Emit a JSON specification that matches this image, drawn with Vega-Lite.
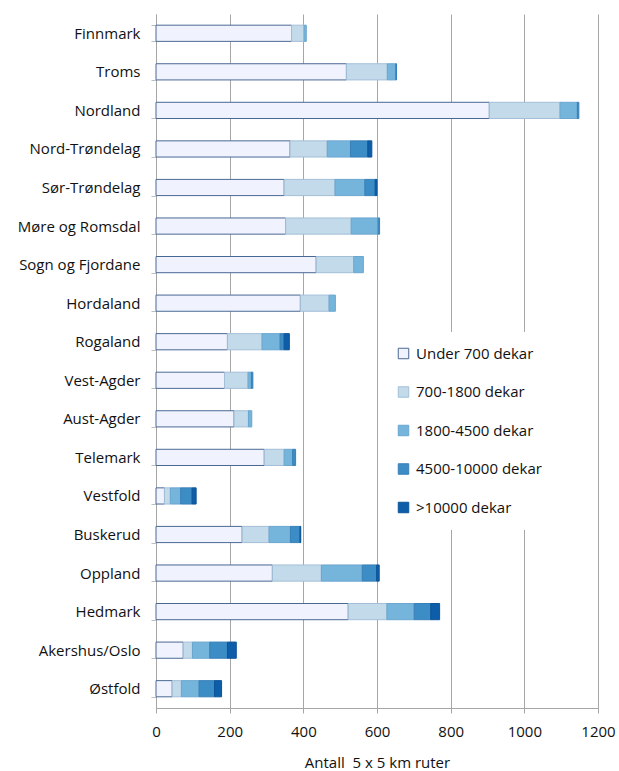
{
  "$schema": "https://vega.github.io/schema/vega-lite/v6.json",
  "autosize": {"type": "none"},
  "width": 442,
  "height": 694,
  "padding": {"left": 156, "top": 14, "right": 21, "bottom": 63},
  "background": "white",
  "config": {
    "font": "Open Sans",
    "view": {"stroke": null}
  },
  "data": {
    "values": [
      {"fylke": "Finnmark", "klasse": "Under 700 dekar", "ord": 1, "antall": 368},
      {"fylke": "Finnmark", "klasse": "700-1800 dekar", "ord": 2, "antall": 34},
      {"fylke": "Finnmark", "klasse": "1800-4500 dekar", "ord": 3, "antall": 6},
      {"fylke": "Troms", "klasse": "Under 700 dekar", "ord": 1, "antall": 517},
      {"fylke": "Troms", "klasse": "700-1800 dekar", "ord": 2, "antall": 111},
      {"fylke": "Troms", "klasse": "1800-4500 dekar", "ord": 3, "antall": 23},
      {"fylke": "Troms", "klasse": "\u00a04500-10000 dekar", "ord": 4, "antall": 2},
      {"fylke": "Nordland", "klasse": "Under 700 dekar", "ord": 1, "antall": 905},
      {"fylke": "Nordland", "klasse": "700-1800 dekar", "ord": 2, "antall": 192},
      {"fylke": "Nordland", "klasse": "1800-4500 dekar", "ord": 3, "antall": 47},
      {"fylke": "Nordland", "klasse": "\u00a04500-10000 dekar", "ord": 4, "antall": 4},
      {"fylke": "Nord-Trøndelag", "klasse": "Under 700 dekar", "ord": 1, "antall": 364},
      {"fylke": "Nord-Trøndelag", "klasse": "700-1800 dekar", "ord": 2, "antall": 101},
      {"fylke": "Nord-Trøndelag", "klasse": "1800-4500 dekar", "ord": 3, "antall": 63},
      {"fylke": "Nord-Trøndelag", "klasse": "\u00a04500-10000 dekar", "ord": 4, "antall": 47},
      {"fylke": "Nord-Trøndelag", "klasse": ">10000 dekar", "ord": 5, "antall": 11},
      {"fylke": "Sør-Trøndelag", "klasse": "Under 700 dekar", "ord": 1, "antall": 348},
      {"fylke": "Sør-Trøndelag", "klasse": "700-1800 dekar", "ord": 2, "antall": 138},
      {"fylke": "Sør-Trøndelag", "klasse": "1800-4500 dekar", "ord": 3, "antall": 81},
      {"fylke": "Sør-Trøndelag", "klasse": "\u00a04500-10000 dekar", "ord": 4, "antall": 28},
      {"fylke": "Sør-Trøndelag", "klasse": ">10000 dekar", "ord": 5, "antall": 5},
      {"fylke": "Møre og Romsdal", "klasse": "Under 700 dekar", "ord": 1, "antall": 352},
      {"fylke": "Møre og Romsdal", "klasse": "700-1800 dekar", "ord": 2, "antall": 178},
      {"fylke": "Møre og Romsdal", "klasse": "1800-4500 dekar", "ord": 3, "antall": 73},
      {"fylke": "Møre og Romsdal", "klasse": "\u00a04500-10000 dekar", "ord": 4, "antall": 4},
      {"fylke": "Sogn og Fjordane", "klasse": "Under 700 dekar", "ord": 1, "antall": 435},
      {"fylke": "Sogn og Fjordane", "klasse": "700-1800 dekar", "ord": 2, "antall": 102},
      {"fylke": "Sogn og Fjordane", "klasse": "1800-4500 dekar", "ord": 3, "antall": 26},
      {"fylke": "Hordaland", "klasse": "Under 700 dekar", "ord": 1, "antall": 392},
      {"fylke": "Hordaland", "klasse": "700-1800 dekar", "ord": 2, "antall": 78},
      {"fylke": "Hordaland", "klasse": "1800-4500 dekar", "ord": 3, "antall": 17},
      {"fylke": "Rogaland", "klasse": "Under 700 dekar", "ord": 1, "antall": 194},
      {"fylke": "Rogaland", "klasse": "700-1800 dekar", "ord": 2, "antall": 94},
      {"fylke": "Rogaland", "klasse": "1800-4500 dekar", "ord": 3, "antall": 49},
      {"fylke": "Rogaland", "klasse": "\u00a04500-10000 dekar", "ord": 4, "antall": 11},
      {"fylke": "Rogaland", "klasse": ">10000 dekar", "ord": 5, "antall": 14},
      {"fylke": "Vest-Agder", "klasse": "Under 700 dekar", "ord": 1, "antall": 186},
      {"fylke": "Vest-Agder", "klasse": "700-1800 dekar", "ord": 2, "antall": 64},
      {"fylke": "Vest-Agder", "klasse": "1800-4500 dekar", "ord": 3, "antall": 9},
      {"fylke": "Vest-Agder", "klasse": "\u00a04500-10000 dekar", "ord": 4, "antall": 4},
      {"fylke": "Aust-Agder", "klasse": "Under 700 dekar", "ord": 1, "antall": 212},
      {"fylke": "Aust-Agder", "klasse": "700-1800 dekar", "ord": 2, "antall": 39},
      {"fylke": "Aust-Agder", "klasse": "1800-4500 dekar", "ord": 3, "antall": 9},
      {"fylke": "Telemark", "klasse": "Under 700 dekar", "ord": 1, "antall": 294},
      {"fylke": "Telemark", "klasse": "700-1800 dekar", "ord": 2, "antall": 54},
      {"fylke": "Telemark", "klasse": "1800-4500 dekar", "ord": 3, "antall": 23},
      {"fylke": "Telemark", "klasse": "\u00a04500-10000 dekar", "ord": 4, "antall": 8},
      {"fylke": "Vestfold", "klasse": "Under 700 dekar", "ord": 1, "antall": 23},
      {"fylke": "Vestfold", "klasse": "700-1800 dekar", "ord": 2, "antall": 16},
      {"fylke": "Vestfold", "klasse": "1800-4500 dekar", "ord": 3, "antall": 28},
      {"fylke": "Vestfold", "klasse": "\u00a04500-10000 dekar", "ord": 4, "antall": 31},
      {"fylke": "Vestfold", "klasse": ">10000 dekar", "ord": 5, "antall": 11},
      {"fylke": "Buskerud", "klasse": "Under 700 dekar", "ord": 1, "antall": 234},
      {"fylke": "Buskerud", "klasse": "700-1800 dekar", "ord": 2, "antall": 73},
      {"fylke": "Buskerud", "klasse": "1800-4500 dekar", "ord": 3, "antall": 58},
      {"fylke": "Buskerud", "klasse": "\u00a04500-10000 dekar", "ord": 4, "antall": 26},
      {"fylke": "Buskerud", "klasse": ">10000 dekar", "ord": 5, "antall": 2},
      {"fylke": "Oppland", "klasse": "Under 700 dekar", "ord": 1, "antall": 316},
      {"fylke": "Oppland", "klasse": "700-1800 dekar", "ord": 2, "antall": 133},
      {"fylke": "Oppland", "klasse": "1800-4500 dekar", "ord": 3, "antall": 111},
      {"fylke": "Oppland", "klasse": "\u00a04500-10000 dekar", "ord": 4, "antall": 39},
      {"fylke": "Oppland", "klasse": ">10000 dekar", "ord": 5, "antall": 7},
      {"fylke": "Hedmark", "klasse": "Under 700 dekar", "ord": 1, "antall": 522},
      {"fylke": "Hedmark", "klasse": "700-1800 dekar", "ord": 2, "antall": 105},
      {"fylke": "Hedmark", "klasse": "1800-4500 dekar", "ord": 3, "antall": 74},
      {"fylke": "Hedmark", "klasse": "\u00a04500-10000 dekar", "ord": 4, "antall": 45},
      {"fylke": "Hedmark", "klasse": ">10000 dekar", "ord": 5, "antall": 24},
      {"fylke": "Akershus/Oslo", "klasse": "Under 700 dekar", "ord": 1, "antall": 74},
      {"fylke": "Akershus/Oslo", "klasse": "700-1800 dekar", "ord": 2, "antall": 25},
      {"fylke": "Akershus/Oslo", "klasse": "1800-4500 dekar", "ord": 3, "antall": 47},
      {"fylke": "Akershus/Oslo", "klasse": "\u00a04500-10000 dekar", "ord": 4, "antall": 48},
      {"fylke": "Akershus/Oslo", "klasse": ">10000 dekar", "ord": 5, "antall": 24},
      {"fylke": "Østfold", "klasse": "Under 700 dekar", "ord": 1, "antall": 44},
      {"fylke": "Østfold", "klasse": "700-1800 dekar", "ord": 2, "antall": 25},
      {"fylke": "Østfold", "klasse": "1800-4500 dekar", "ord": 3, "antall": 48},
      {"fylke": "Østfold", "klasse": "\u00a04500-10000 dekar", "ord": 4, "antall": 42},
      {"fylke": "Østfold", "klasse": ">10000 dekar", "ord": 5, "antall": 19}
    ]
  },
  "mark": {"type": "bar", "strokeWidth": 1},
  "encoding": {
    "y": {
      "field": "fylke",
      "type": "nominal",
      "sort": ["Finnmark", "Troms", "Nordland", "Nord-Trøndelag", "Sør-Trøndelag", "Møre og Romsdal", "Sogn og Fjordane", "Hordaland", "Rogaland", "Vest-Agder", "Aust-Agder", "Telemark", "Vestfold", "Buskerud", "Oppland", "Hedmark", "Akershus/Oslo", "Østfold"],
      "scale": {"paddingInner": 0.58, "paddingOuter": 0.29},
      "axis": {
        "title": null,
        "tickBand": "extent",
        "tickSize": 5,
        "tickColor": "#BFBFBF",
        "domainColor": "#A6A6A6",
        "labelFontSize": 15,
        "labelColor": "#111111",
        "labelPadding": 11,
        "labelFont": "Open Sans",
        "grid": false
      }
    },
    "x": {
      "field": "antall",
      "type": "quantitative",
      "stack": "zero",
      "scale": {"domain": [0, 1200], "nice": false},
      "axis": {
        "title": "Antall\u00a0 5 x 5 km ruter",
        "values": [0, 200, 400, 600, 800, 1000, 1200],
        "format": "d",
        "labelFlush": false,
        "grid": true,
        "gridColor": "#A6A6A6",
        "gridWidth": 1,
        "tickSize": 5,
        "tickColor": "#A6A6A6",
        "domainColor": "#A6A6A6",
        "labelFontSize": 15,
        "labelColor": "#111111",
        "labelPadding": 11,
        "labelFont": "Open Sans",
        "titleFontSize": 15,
        "titleFontWeight": "normal",
        "titleColor": "#111111",
        "titleFont": "Open Sans",
        "titlePadding": 16
      }
    },
    "color": {
      "field": "klasse",
      "type": "nominal",
      "scale": {
        "domain": ["Under 700 dekar", "700-1800 dekar", "1800-4500 dekar", "\u00a04500-10000 dekar", ">10000 dekar"],
        "range": ["#F0F3FD", "#C3DAEA", "#76B5DB", "#3C8CC6", "#0D5DA9"]
      },
      "legend": {
        "title": null,
        "orient": "none",
        "legendX": 226,
        "legendY": 318,
        "padding": 14,
        "fillColor": "white",
        "symbolType": "square",
        "symbolSize": 110,
        "symbolStrokeWidth": 1,
        "labelFontSize": 15,
        "labelColor": "#111111",
        "labelFont": "Open Sans",
        "labelOffset": 5,
        "rowPadding": 22.5
      }
    },
    "stroke": {
      "field": "klasse",
      "type": "nominal",
      "scale": {
        "domain": ["Under 700 dekar", "700-1800 dekar", "1800-4500 dekar", "\u00a04500-10000 dekar", ">10000 dekar"],
        "range": ["#4A6894", "#A3BFD7", "#6AA6CF", "#3A80B8", "#0C5499"]
      },
      "legend": null
    },
    "order": {"field": "ord", "type": "quantitative"}
  }
}
